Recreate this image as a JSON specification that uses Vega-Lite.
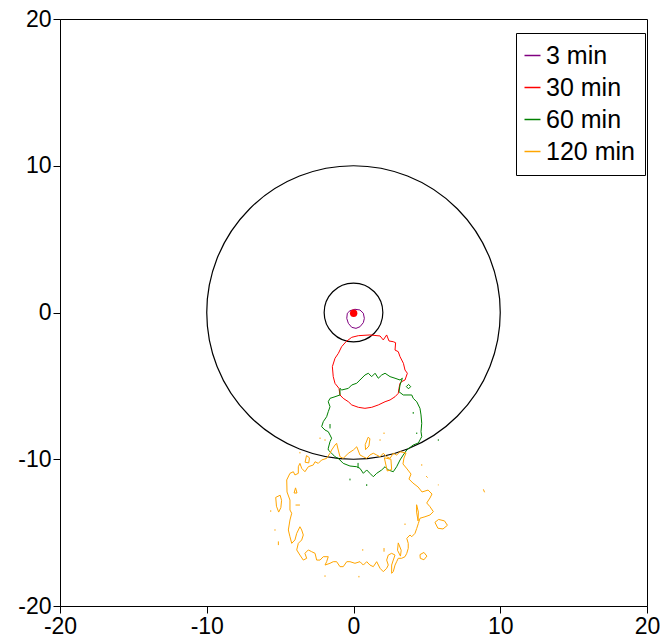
{
  "$schema": "https://vega.github.io/schema/vega-lite/v6.json",
  "width": 587,
  "height": 587,
  "autosize": "none",
  "padding": {"left": 60, "top": 19, "right": 13, "bottom": 37},
  "background": "white",
  "config": {
    "view": {"stroke": "black", "strokeWidth": 1},
    "axis": {
      "domainColor": "black", "tickColor": "black", "labelColor": "black",
      "labelFont": "Liberation Sans", "labelFontSize": 23, "tickSize": 7,
      "labelPadding": 2, "grid": false, "title": null, "labelFlush": false,
      "labelOverlap": false
    },
    "legend": {
      "labelFont": "Liberation Sans", "labelFontSize": 25, "labelColor": "black",
      "symbolType": "stroke", "symbolSize": 256, "symbolStrokeWidth": 1.5,
      "strokeColor": "black", "fillColor": "white", "padding": 10,
      "rowPadding": 6, "labelOffset": 1, "symbolOffset": -6, "cornerRadius": 0
    }
  },
  "datasets": {
    "rings": [
      {"x": 0, "y": 0, "r": 10},
      {"x": 0, "y": 0, "r": 2}
    ],
    "source": [{"x": 0.01, "y": -0.05}],
    "contours": [
      {"s":"3 min","p":"p1","x":-0.42,"y":-0.05},{"s":"3 min","p":"p1","x":-0.24,"y":0.12},{"s":"3 min","p":"p1","x":0.10,"y":0.22},{"s":"3 min","p":"p1","x":0.44,"y":0.17},{"s":"3 min","p":"p1","x":0.67,"y":-0.05},{"s":"3 min","p":"p1","x":0.74,"y":-0.40},{"s":"3 min","p":"p1","x":0.67,"y":-0.69},{"s":"3 min","p":"p1","x":0.44,"y":-0.97},{"s":"3 min","p":"p1","x":0.17,"y":-1.08},{"s":"3 min","p":"p1","x":-0.12,"y":-1.01},{"s":"3 min","p":"p1","x":-0.35,"y":-0.74},{"s":"3 min","p":"p1","x":-0.46,"y":-0.40},{"s":"3 min","p":"p1","x":-0.42,"y":-0.05},

      {"s":"30 min","p":"r1","x":-1.03,"y":-2.78},{"s":"30 min","p":"r1","x":-0.81,"y":-2.33},{"s":"30 min","p":"r1","x":-0.51,"y":-1.99},{"s":"30 min","p":"r1","x":-0.12,"y":-1.69},{"s":"30 min","p":"r1","x":0.33,"y":-1.58},{"s":"30 min","p":"r1","x":1.12,"y":-1.53},{"s":"30 min","p":"r1","x":1.81,"y":-1.60},{"s":"30 min","p":"r1","x":2.03,"y":-1.87},{"s":"30 min","p":"r1","x":2.26,"y":-1.53},{"s":"30 min","p":"r1","x":2.42,"y":-1.94},{"s":"30 min","p":"r1","x":2.71,"y":-1.99},{"s":"30 min","p":"r1","x":2.87,"y":-2.06},{"s":"30 min","p":"r1","x":2.83,"y":-2.56},{"s":"30 min","p":"r1","x":3.05,"y":-2.67},{"s":"30 min","p":"r1","x":3.17,"y":-3.01},{"s":"30 min","p":"r1","x":3.40,"y":-3.46},{"s":"30 min","p":"r1","x":3.51,"y":-3.92},{"s":"30 min","p":"r1","x":3.67,"y":-4.14},{"s":"30 min","p":"r1","x":3.51,"y":-4.60},{"s":"30 min","p":"r1","x":3.28,"y":-4.71},{"s":"30 min","p":"r1","x":3.17,"y":-4.83},{"s":"30 min","p":"r1","x":3.10,"y":-5.17},{"s":"30 min","p":"r1","x":3.05,"y":-5.51},{"s":"30 min","p":"r1","x":2.83,"y":-5.74},{"s":"30 min","p":"r1","x":2.49,"y":-5.96},{"s":"30 min","p":"r1","x":2.15,"y":-6.08},{"s":"30 min","p":"r1","x":1.69,"y":-6.30},{"s":"30 min","p":"r1","x":1.24,"y":-6.46},{"s":"30 min","p":"r1","x":0.78,"y":-6.53},{"s":"30 min","p":"r1","x":0.33,"y":-6.46},{"s":"30 min","p":"r1","x":-0.12,"y":-6.30},{"s":"30 min","p":"r1","x":-0.35,"y":-6.08},{"s":"30 min","p":"r1","x":-0.70,"y":-5.85},{"s":"30 min","p":"r1","x":-0.92,"y":-5.62},{"s":"30 min","p":"r1","x":-0.99,"y":-5.17},{"s":"30 min","p":"r1","x":-1.26,"y":-4.83},{"s":"30 min","p":"r1","x":-1.38,"y":-4.37},{"s":"30 min","p":"r1","x":-1.44,"y":-3.69},{"s":"30 min","p":"r1","x":-1.26,"y":-3.12},{"s":"30 min","p":"r1","x":-1.03,"y":-2.78},

      {"s":"60 min","p":"g1","x":-0.92,"y":-5.17},{"s":"60 min","p":"g1","x":-0.80,"y":-5.28},{"s":"60 min","p":"g1","x":-0.35,"y":-5.17},{"s":"60 min","p":"g1","x":-0.12,"y":-4.94},{"s":"60 min","p":"g1","x":0.22,"y":-4.82},{"s":"60 min","p":"g1","x":0.44,"y":-4.60},{"s":"60 min","p":"g1","x":0.78,"y":-4.26},{"s":"60 min","p":"g1","x":1.01,"y":-4.14},{"s":"60 min","p":"g1","x":1.24,"y":-4.37},{"s":"60 min","p":"g1","x":1.47,"y":-4.14},{"s":"60 min","p":"g1","x":1.69,"y":-4.48},{"s":"60 min","p":"g1","x":1.92,"y":-4.26},{"s":"60 min","p":"g1","x":2.15,"y":-4.14},{"s":"60 min","p":"g1","x":2.49,"y":-4.37},{"s":"60 min","p":"g1","x":2.83,"y":-4.48},{"s":"60 min","p":"g1","x":3.17,"y":-4.60},{"s":"60 min","p":"g1","x":3.33,"y":-4.48},{"s":"60 min","p":"g1","x":3.17,"y":-4.94},{"s":"60 min","p":"g1","x":3.10,"y":-5.40},{"s":"60 min","p":"g1","x":3.39,"y":-5.62},{"s":"60 min","p":"g1","x":3.97,"y":-5.62},{"s":"60 min","p":"g1","x":4.07,"y":-5.85},{"s":"60 min","p":"g1","x":4.31,"y":-6.08},{"s":"60 min","p":"g1","x":4.53,"y":-6.53},{"s":"60 min","p":"g1","x":4.60,"y":-6.98},{"s":"60 min","p":"g1","x":4.65,"y":-7.55},{"s":"60 min","p":"g1","x":4.60,"y":-8.12},{"s":"60 min","p":"g1","x":4.65,"y":-8.46},{"s":"60 min","p":"g1","x":4.42,"y":-8.89},{"s":"60 min","p":"g1","x":4.07,"y":-9.03},{"s":"60 min","p":"g1","x":3.63,"y":-9.37},{"s":"60 min","p":"g1","x":3.39,"y":-9.71},{"s":"60 min","p":"g1","x":3.17,"y":-10.05},{"s":"60 min","p":"g1","x":2.94,"y":-10.51},{"s":"60 min","p":"g1","x":2.71,"y":-10.85},{"s":"60 min","p":"g1","x":2.37,"y":-10.73},{"s":"60 min","p":"g1","x":2.15,"y":-10.51},{"s":"60 min","p":"g1","x":1.92,"y":-10.73},{"s":"60 min","p":"g1","x":1.58,"y":-10.96},{"s":"60 min","p":"g1","x":1.35,"y":-11.19},{"s":"60 min","p":"g1","x":1.12,"y":-10.96},{"s":"60 min","p":"g1","x":0.90,"y":-10.73},{"s":"60 min","p":"g1","x":0.67,"y":-10.96},{"s":"60 min","p":"g1","x":0.44,"y":-10.62},{"s":"60 min","p":"g1","x":0.22,"y":-10.51},{"s":"60 min","p":"g1","x":-0.24,"y":-10.46},{"s":"60 min","p":"g1","x":-0.70,"y":-10.28},{"s":"60 min","p":"g1","x":-1.04,"y":-9.94},{"s":"60 min","p":"g1","x":-1.26,"y":-9.83},{"s":"60 min","p":"g1","x":-1.49,"y":-9.59},{"s":"60 min","p":"g1","x":-1.72,"y":-9.37},{"s":"60 min","p":"g1","x":-1.72,"y":-9.25},{"s":"60 min","p":"g1","x":-1.60,"y":-8.80},{"s":"60 min","p":"g1","x":-1.49,"y":-8.57},{"s":"60 min","p":"g1","x":-1.60,"y":-8.35},{"s":"60 min","p":"g1","x":-1.72,"y":-8.12},{"s":"60 min","p":"g1","x":-1.94,"y":-8.01},{"s":"60 min","p":"g1","x":-2.17,"y":-7.78},{"s":"60 min","p":"g1","x":-2.06,"y":-7.44},{"s":"60 min","p":"g1","x":-1.83,"y":-7.10},{"s":"60 min","p":"g1","x":-1.72,"y":-6.76},{"s":"60 min","p":"g1","x":-1.60,"y":-6.42},{"s":"60 min","p":"g1","x":-1.72,"y":-6.08},{"s":"60 min","p":"g1","x":-1.60,"y":-5.85},{"s":"60 min","p":"g1","x":-1.26,"y":-5.74},{"s":"60 min","p":"g1","x":-0.92,"y":-5.62},{"s":"60 min","p":"g1","x":-0.92,"y":-5.17},
      {"s":"60 min","p":"g2","x":3.60,"y":-5.05},{"s":"60 min","p":"g2","x":3.75,"y":-4.90},{"s":"60 min","p":"g2","x":3.90,"y":-5.05},{"s":"60 min","p":"g2","x":3.75,"y":-5.20},{"s":"60 min","p":"g2","x":3.60,"y":-5.05},
      {"s":"60 min","p":"g3","x":4.07,"y":-6.78},{"s":"60 min","p":"g3","x":4.07,"y":-6.90},
      {"s":"60 min","p":"g4","x":-1.60,"y":-7.60},{"s":"60 min","p":"g4","x":-1.60,"y":-7.90},
      {"s":"60 min","p":"g5","x":5.78,"y":-8.64},{"s":"60 min","p":"g5","x":5.78,"y":-8.74},
      {"s":"60 min","p":"g6","x":-0.24,"y":-11.32},{"s":"60 min","p":"g6","x":-0.24,"y":-11.44},
      {"s":"60 min","p":"g7","x":0.90,"y":-11.70},{"s":"60 min","p":"g7","x":0.90,"y":-11.82},
      {"s":"60 min","p":"g8","x":0.31,"y":-10.25},{"s":"60 min","p":"g8","x":0.31,"y":-10.60},
      {"s":"60 min","p":"g9","x":4.31,"y":-8.18},{"s":"60 min","p":"g9","x":4.31,"y":-8.28},

      {"s":"120 min","p":"o1","x":-4.55,"y":-11.41},{"s":"120 min","p":"o1","x":-4.33,"y":-10.96},{"s":"120 min","p":"o1","x":-4.10,"y":-10.85},{"s":"120 min","p":"o1","x":-3.99,"y":-11.07},{"s":"120 min","p":"o1","x":-3.76,"y":-10.96},{"s":"120 min","p":"o1","x":-3.76,"y":-10.51},{"s":"120 min","p":"o1","x":-3.65,"y":-10.28},{"s":"120 min","p":"o1","x":-3.53,"y":-10.62},{"s":"120 min","p":"o1","x":-3.31,"y":-10.85},{"s":"120 min","p":"o1","x":-3.08,"y":-10.51},{"s":"120 min","p":"o1","x":-2.74,"y":-10.39},{"s":"120 min","p":"o1","x":-2.62,"y":-10.17},{"s":"120 min","p":"o1","x":-2.40,"y":-10.28},{"s":"120 min","p":"o1","x":-2.17,"y":-10.05},{"s":"120 min","p":"o1","x":-1.83,"y":-9.94},{"s":"120 min","p":"o1","x":-1.60,"y":-9.59},{"s":"120 min","p":"o1","x":-1.49,"y":-9.37},{"s":"120 min","p":"o1","x":-1.26,"y":-9.03},{"s":"120 min","p":"o1","x":-1.15,"y":-8.91},{"s":"120 min","p":"o1","x":-1.04,"y":-9.37},{"s":"120 min","p":"o1","x":-0.92,"y":-9.83},{"s":"120 min","p":"o1","x":-0.70,"y":-9.94},{"s":"120 min","p":"o1","x":-0.35,"y":-9.59},{"s":"120 min","p":"o1","x":-0.01,"y":-9.37},{"s":"120 min","p":"o1","x":0.22,"y":-9.15},{"s":"120 min","p":"o1","x":0.44,"y":-9.71},{"s":"120 min","p":"o1","x":0.67,"y":-9.83},{"s":"120 min","p":"o1","x":0.90,"y":-9.94},{"s":"120 min","p":"o1","x":1.12,"y":-9.71},{"s":"120 min","p":"o1","x":1.35,"y":-9.59},{"s":"120 min","p":"o1","x":1.58,"y":-9.71},{"s":"120 min","p":"o1","x":1.81,"y":-9.83},{"s":"120 min","p":"o1","x":2.03,"y":-9.59},{"s":"120 min","p":"o1","x":2.26,"y":-9.83},{"s":"120 min","p":"o1","x":2.49,"y":-9.94},{"s":"120 min","p":"o1","x":2.71,"y":-9.59},{"s":"120 min","p":"o1","x":2.94,"y":-9.71},{"s":"120 min","p":"o1","x":3.17,"y":-9.49},{"s":"120 min","p":"o1","x":3.58,"y":-9.57},{"s":"120 min","p":"o1","x":3.44,"y":-9.92},{"s":"120 min","p":"o1","x":3.37,"y":-10.32},{"s":"120 min","p":"o1","x":3.65,"y":-10.66},{"s":"120 min","p":"o1","x":3.92,"y":-11.01},{"s":"120 min","p":"o1","x":3.78,"y":-11.35},{"s":"120 min","p":"o1","x":4.05,"y":-11.62},{"s":"120 min","p":"o1","x":4.40,"y":-11.89},{"s":"120 min","p":"o1","x":4.67,"y":-12.23},{"s":"120 min","p":"o1","x":5.08,"y":-12.10},{"s":"120 min","p":"o1","x":5.35,"y":-12.37},{"s":"120 min","p":"o1","x":5.21,"y":-12.64},{"s":"120 min","p":"o1","x":4.99,"y":-12.98},{"s":"120 min","p":"o1","x":5.21,"y":-13.23},{"s":"120 min","p":"o1","x":5.44,"y":-13.57},{"s":"120 min","p":"o1","x":5.21,"y":-13.80},{"s":"120 min","p":"o1","x":4.87,"y":-13.92},{"s":"120 min","p":"o1","x":4.53,"y":-14.02},{"s":"120 min","p":"o1","x":4.42,"y":-14.37},{"s":"120 min","p":"o1","x":4.31,"y":-14.71},{"s":"120 min","p":"o1","x":4.19,"y":-15.05},{"s":"120 min","p":"o1","x":3.97,"y":-15.28},{"s":"120 min","p":"o1","x":3.85,"y":-15.16},{"s":"120 min","p":"o1","x":3.63,"y":-15.39},{"s":"120 min","p":"o1","x":3.73,"y":-15.73},{"s":"120 min","p":"o1","x":3.73,"y":-16.07},{"s":"120 min","p":"o1","x":3.63,"y":-16.41},{"s":"120 min","p":"o1","x":3.51,"y":-16.64},{"s":"120 min","p":"o1","x":3.28,"y":-16.75},{"s":"120 min","p":"o1","x":3.05,"y":-16.75},{"s":"120 min","p":"o1","x":2.94,"y":-16.98},{"s":"120 min","p":"o1","x":2.83,"y":-17.21},{"s":"120 min","p":"o1","x":2.71,"y":-17.66},{"s":"120 min","p":"o1","x":2.60,"y":-17.77},{"s":"120 min","p":"o1","x":2.60,"y":-17.21},{"s":"120 min","p":"o1","x":2.71,"y":-16.87},{"s":"120 min","p":"o1","x":2.83,"y":-16.53},{"s":"120 min","p":"o1","x":2.60,"y":-16.41},{"s":"120 min","p":"o1","x":2.37,"y":-16.53},{"s":"120 min","p":"o1","x":2.26,"y":-16.87},{"s":"120 min","p":"o1","x":2.37,"y":-17.21},{"s":"120 min","p":"o1","x":2.26,"y":-17.43},{"s":"120 min","p":"o1","x":2.03,"y":-17.66},{"s":"120 min","p":"o1","x":1.81,"y":-17.43},{"s":"120 min","p":"o1","x":1.58,"y":-16.98},{"s":"120 min","p":"o1","x":1.35,"y":-17.32},{"s":"120 min","p":"o1","x":1.12,"y":-17.21},{"s":"120 min","p":"o1","x":0.90,"y":-16.98},{"s":"120 min","p":"o1","x":0.67,"y":-17.21},{"s":"120 min","p":"o1","x":0.44,"y":-16.98},{"s":"120 min","p":"o1","x":0.10,"y":-17.09},{"s":"120 min","p":"o1","x":-0.24,"y":-16.98},{"s":"120 min","p":"o1","x":-0.46,"y":-16.98},{"s":"120 min","p":"o1","x":-0.70,"y":-17.32},{"s":"120 min","p":"o1","x":-0.92,"y":-17.32},{"s":"120 min","p":"o1","x":-1.15,"y":-16.98},{"s":"120 min","p":"o1","x":-1.38,"y":-16.98},{"s":"120 min","p":"o1","x":-1.60,"y":-17.09},{"s":"120 min","p":"o1","x":-1.94,"y":-17.21},{"s":"120 min","p":"o1","x":-1.83,"y":-16.98},{"s":"120 min","p":"o1","x":-1.72,"y":-16.64},{"s":"120 min","p":"o1","x":-2.06,"y":-16.64},{"s":"120 min","p":"o1","x":-2.28,"y":-16.87},{"s":"120 min","p":"o1","x":-2.51,"y":-16.87},{"s":"120 min","p":"o1","x":-2.62,"y":-16.41},{"s":"120 min","p":"o1","x":-2.85,"y":-16.30},{"s":"120 min","p":"o1","x":-3.08,"y":-16.18},{"s":"120 min","p":"o1","x":-3.31,"y":-16.41},{"s":"120 min","p":"o1","x":-3.19,"y":-16.75},{"s":"120 min","p":"o1","x":-3.42,"y":-16.87},{"s":"120 min","p":"o1","x":-3.65,"y":-16.53},{"s":"120 min","p":"o1","x":-3.87,"y":-16.18},{"s":"120 min","p":"o1","x":-3.76,"y":-15.73},{"s":"120 min","p":"o1","x":-3.53,"y":-15.50},{"s":"120 min","p":"o1","x":-3.42,"y":-15.16},{"s":"120 min","p":"o1","x":-3.53,"y":-14.82},{"s":"120 min","p":"o1","x":-3.65,"y":-14.60},{"s":"120 min","p":"o1","x":-3.87,"y":-15.05},{"s":"120 min","p":"o1","x":-3.99,"y":-15.50},{"s":"120 min","p":"o1","x":-4.21,"y":-15.73},{"s":"120 min","p":"o1","x":-4.33,"y":-15.28},{"s":"120 min","p":"o1","x":-4.44,"y":-14.82},{"s":"120 min","p":"o1","x":-4.33,"y":-14.14},{"s":"120 min","p":"o1","x":-4.21,"y":-13.68},{"s":"120 min","p":"o1","x":-4.33,"y":-13.46},{"s":"120 min","p":"o1","x":-4.33,"y":-12.78},{"s":"120 min","p":"o1","x":-4.53,"y":-12.23},{"s":"120 min","p":"o1","x":-4.55,"y":-11.41},
      {"s":"120 min","p":"o2","x":0.82,"y":-9.35},{"s":"120 min","p":"o2","x":0.80,"y":-9.00},{"s":"120 min","p":"o2","x":1.00,"y":-8.50},{"s":"120 min","p":"o2","x":1.12,"y":-8.60},{"s":"120 min","p":"o2","x":1.05,"y":-9.10},{"s":"120 min","p":"o2","x":0.82,"y":-9.35},
      {"s":"120 min","p":"o3","x":-3.30,"y":-10.20},{"s":"120 min","p":"o3","x":-3.20,"y":-9.75},{"s":"120 min","p":"o3","x":-3.00,"y":-9.90},{"s":"120 min","p":"o3","x":-3.05,"y":-10.25},{"s":"120 min","p":"o3","x":-3.30,"y":-10.20},
      {"s":"120 min","p":"o4","x":-4.05,"y":-12.30},{"s":"120 min","p":"o4","x":-3.95,"y":-11.95},{"s":"120 min","p":"o4","x":-3.85,"y":-12.30},{"s":"120 min","p":"o4","x":-4.05,"y":-12.30},
      {"s":"120 min","p":"o5","x":-5.30,"y":-12.60},{"s":"120 min","p":"o5","x":-5.00,"y":-12.45},{"s":"120 min","p":"o5","x":-4.90,"y":-12.80},{"s":"120 min","p":"o5","x":-4.95,"y":-13.30},{"s":"120 min","p":"o5","x":-5.10,"y":-13.60},{"s":"120 min","p":"o5","x":-5.25,"y":-13.20},{"s":"120 min","p":"o5","x":-5.30,"y":-12.60},
      {"s":"120 min","p":"o6","x":-3.95,"y":-13.12},{"s":"120 min","p":"o6","x":-3.65,"y":-13.12},
      {"s":"120 min","p":"o7","x":5.55,"y":-14.30},{"s":"120 min","p":"o7","x":5.80,"y":-14.10},{"s":"120 min","p":"o7","x":6.20,"y":-14.20},{"s":"120 min","p":"o7","x":6.40,"y":-14.50},{"s":"120 min","p":"o7","x":6.10,"y":-14.75},{"s":"120 min","p":"o7","x":5.75,"y":-14.70},{"s":"120 min","p":"o7","x":5.55,"y":-14.30},
      {"s":"120 min","p":"o8","x":4.53,"y":-16.50},{"s":"120 min","p":"o8","x":4.80,"y":-16.35},{"s":"120 min","p":"o8","x":5.00,"y":-16.60},{"s":"120 min","p":"o8","x":4.80,"y":-16.85},{"s":"120 min","p":"o8","x":4.55,"y":-16.75},{"s":"120 min","p":"o8","x":4.53,"y":-16.50},
      {"s":"120 min","p":"o9","x":4.30,"y":-13.10},{"s":"120 min","p":"o9","x":4.42,"y":-13.60},{"s":"120 min","p":"o9","x":4.40,"y":-14.20},{"s":"120 min","p":"o9","x":4.30,"y":-13.60},{"s":"120 min","p":"o9","x":4.30,"y":-13.10},
      {"s":"120 min","p":"o10","x":3.05,"y":-15.70},{"s":"120 min","p":"o10","x":3.25,"y":-16.20},{"s":"120 min","p":"o10","x":3.20,"y":-16.60},{"s":"120 min","p":"o10","x":3.00,"y":-16.20},{"s":"120 min","p":"o10","x":3.05,"y":-15.70},
      {"s":"120 min","p":"o11","x":2.10,"y":-9.90},{"s":"120 min","p":"o11","x":2.30,"y":-10.80},{"s":"120 min","p":"o11","x":2.60,"y":-10.70},{"s":"120 min","p":"o11","x":2.55,"y":-10.00},{"s":"120 min","p":"o11","x":2.10,"y":-9.90},
      {"s":"120 min","p":"o12","x":-5.64,"y":-13.48},{"s":"120 min","p":"o12","x":-5.64,"y":-13.58},
      {"s":"120 min","p":"o13","x":-5.35,"y":-14.77},{"s":"120 min","p":"o13","x":-5.35,"y":-14.87},
      {"s":"120 min","p":"o14","x":-5.12,"y":-15.60},{"s":"120 min","p":"o14","x":-5.12,"y":-15.85},
      {"s":"120 min","p":"o15","x":-1.94,"y":-17.91},{"s":"120 min","p":"o15","x":-1.94,"y":-18.01},
      {"s":"120 min","p":"o16","x":0.37,"y":-17.95},{"s":"120 min","p":"o16","x":0.37,"y":-18.05},
      {"s":"120 min","p":"o17","x":0.63,"y":-16.13},{"s":"120 min","p":"o17","x":0.63,"y":-16.23},
      {"s":"120 min","p":"o18","x":2.08,"y":-16.05},{"s":"120 min","p":"o18","x":2.08,"y":-16.30},
      {"s":"120 min","p":"o19","x":3.51,"y":-14.38},{"s":"120 min","p":"o19","x":3.51,"y":-14.48},
      {"s":"120 min","p":"o20","x":4.65,"y":-10.34},{"s":"120 min","p":"o20","x":4.65,"y":-10.44},
      {"s":"120 min","p":"o21","x":5.78,"y":-11.72},{"s":"120 min","p":"o21","x":5.78,"y":-11.78},
      {"s":"120 min","p":"o22","x":2.08,"y":-8.18},{"s":"120 min","p":"o22","x":2.08,"y":-8.28},
      {"s":"120 min","p":"o23","x":1.81,"y":-8.64},{"s":"120 min","p":"o23","x":1.81,"y":-8.74},
      {"s":"120 min","p":"o24","x":-1.94,"y":-8.64},{"s":"120 min","p":"o24","x":-1.94,"y":-8.74},
      {"s":"120 min","p":"o25","x":-3.65,"y":-9.50},{"s":"120 min","p":"o25","x":-3.65,"y":-9.60},
      {"s":"120 min","p":"o26","x":8.85,"y":-12.05},{"s":"120 min","p":"o26","x":8.93,"y":-12.25},
      {"s":"120 min","p":"o27","x":4.95,"y":-11.15},{"s":"120 min","p":"o27","x":5.05,"y":-11.25},
      {"s":"120 min","p":"o28","x":-2.28,"y":-8.52},{"s":"120 min","p":"o28","x":-2.28,"y":-8.62}
    ]
  },
  "encoding": {
    "x": {"field": "x", "type": "quantitative", "scale": {"domain": [-20, 20], "nice": false, "zero": false},
          "axis": {"values": [-20, -10, 0, 10, 20], "labelExpr": "'' + datum.value"}},
    "y": {"field": "y", "type": "quantitative", "scale": {"domain": [-20, 20], "nice": false, "zero": false},
          "axis": {"values": [-20, -10, 0, 10, 20], "labelExpr": "'' + datum.value"}}
  },
  "layer": [
    {
      "data": {"name": "rings"},
      "mark": {"type": "point", "shape": "circle", "filled": false, "color": "black", "strokeWidth": 1.2, "opacity": 1},
      "encoding": {
        "size": {"field": "r", "type": "quantitative", "legend": null,
                 "scale": {"type": "pow", "exponent": 2, "domain": [0, 10], "range": [0, 86142]}}
      }
    },
    {
      "data": {"name": "contours"},
      "mark": {"type": "line", "strokeWidth": 1},
      "encoding": {
        "detail": {"field": "p"},
        "order": {"value": null},
        "color": {"field": "s", "type": "nominal", "title": null,
                  "scale": {"domain": ["3 min", "30 min", "60 min", "120 min"], "range": ["purple", "red", "green", "orange"]},
                  "legend": {"orient": "none", "legendX": 456, "legendY": 14}}
      }
    },
    {
      "data": {"name": "source"},
      "mark": {"type": "point", "shape": "circle", "filled": true, "color": "red", "size": 55, "opacity": 1}
    }
  ]
}
